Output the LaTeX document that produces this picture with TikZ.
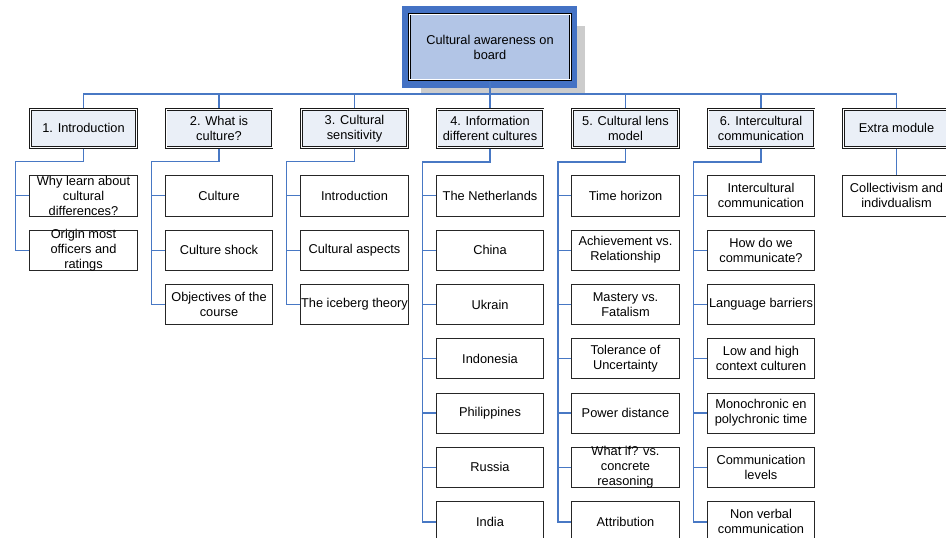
\documentclass[tikz,border=0pt]{standalone}
\usepackage{fontspec}
\setmainfont{Liberation Sans}
\usetikzlibrary{positioning, backgrounds}
\definecolor{rootblue}{RGB}{68,114,196}
\definecolor{rootfill}{RGB}{178,197,230}
\definecolor{modfill}{RGB}{234,239,247}
\definecolor{shadowgray}{RGB}{204,204,204}
\definecolor{linkblue}{RGB}{72,120,196}

\begin{document}
\begin{tikzpicture}[
  x=1pt, y=-1pt,
  every node/.style={font=\fontsize{12.8}{15}\selectfont},
  rootbox/.style={rectangle, draw=black, double=white, double distance=1pt, line width=0.8pt,
                  fill=rootfill, minimum width=161.4pt, minimum height=65.7pt,
                  align=center, inner sep=0pt, outer sep=1.3pt},
  modbox/.style={rectangle, draw=black!90, double=white, double distance=0.8pt, line width=0.9pt,
                 fill=modfill, minimum width=105.9pt, minimum height=37.9pt,
                 align=center, inner sep=0pt, outer sep=1.3pt},
  subbox/.style={rectangle, draw=black!85, line width=0.8pt, fill=white,
                 minimum width=107.7pt, minimum height=40.2pt, align=center, inner sep=0pt},
  link/.style={draw=linkblue, line width=1.2pt},
  trunk/.style={draw=linkblue, line width=1.7pt},
]
\useasboundingbox (0,0) rectangle (946,538);

% Root
\node[rootbox] (root) at (490,47) {Cultural awareness on\\board};

% Modules
\node[modbox, below=27pt of root] (info)  {4. Information\\different cultures};
\node[modbox, left=27pt of info]  (sens)  {3. Cultural\\sensitivity};
\node[modbox, left=27pt of sens]  (what)  {2. What is\\culture?};
\node[modbox, left=27pt of what]  (intro) {1. Introduction};
\node[modbox, right=27pt of info] (lens)  {5. Cultural lens\\model};
\node[modbox, right=27pt of lens] (comm)  {6. Intercultural\\communication};
\node[modbox, right=27pt of comm] (extra) {Extra module};

% Column 1
\node[subbox, below=26.7pt of intro, inner ysep=-2pt] (intro1) {Why learn about\\cultural\\differences?};
\node[subbox, below=13.3pt of intro1, inner ysep=-2pt] (intro2) {Origin most\\officers and\\ratings};

% Column 2
\node[subbox, below=26.7pt of what] (what1) {Culture};
\node[subbox, below=13.3pt of what1] (what2) {Culture shock};
\node[subbox, below=13.3pt of what2] (what3) {Objectives of the\\course};

% Column 3
\node[subbox, below=26.7pt of sens] (sens1) {Introduction};
\node[subbox, below=13.3pt of sens1] (sens2) {Cultural aspects};
\node[subbox, below=13.3pt of sens2] (sens3) {The iceberg theory};

% Column 4
\node[subbox, below=26.7pt of info] (info1) {The Netherlands};
\node[subbox, below=13.3pt of info1] (info2) {China};
\node[subbox, below=13.3pt of info2] (info3) {Ukrain};
\node[subbox, below=13.3pt of info3] (info4) {Indonesia};
\node[subbox, below=13.3pt of info4] (info5) {Philippines};
\node[subbox, below=13.3pt of info5] (info6) {Russia};
\node[subbox, below=13.3pt of info6] (info7) {India};

% Column 5
\node[subbox, below=26.7pt of lens] (lens1) {Time horizon};
\node[subbox, below=13.3pt of lens1] (lens2) {Achievement vs.\\Relationship};
\node[subbox, below=13.3pt of lens2] (lens3) {Mastery vs.\\Fatalism};
\node[subbox, below=13.3pt of lens3] (lens4) {Tolerance of\\Uncertainty};
\node[subbox, below=13.3pt of lens4] (lens5) {Power distance};
\node[subbox, below=13.3pt of lens5, inner ysep=-2pt] (lens6) {What if? vs.\\concrete\\reasoning};
\node[subbox, below=13.3pt of lens6] (lens7) {Attribution};

% Column 6
\node[subbox, below=26.7pt of comm] (comm1) {Intercultural\\communication};
\node[subbox, below=13.3pt of comm1] (comm2) {How do we\\communicate?};
\node[subbox, below=13.3pt of comm2] (comm3) {Language barriers};
\node[subbox, below=13.3pt of comm3] (comm4) {Low and high\\context culturen};
\node[subbox, below=13.3pt of comm4] (comm5) {Monochronic en\\polychronic time};
\node[subbox, below=13.3pt of comm5] (comm6) {Communication\\levels};
\node[subbox, below=13.3pt of comm6] (comm7) {Non verbal\\communication};

% Extra
\node[subbox, below=26.7pt of extra] (extra1) {Collectivism and\\indivdualism};

% Root backdrop
\begin{scope}[on background layer]
\fill[shadowgray] ([shift={(13.4,13)}]root.north west) rectangle ([shift={(12.7,11.7)}]root.south east);
\fill[rootblue] ([shift={(-6,-6.7)}]root.north west) rectangle ([shift={(5.4,6.7)}]root.south east);
\end{scope}

% Bus
\coordinate (bus) at ([yshift=14.2pt]info.north);
\draw[link] (root) -- (info);
\draw[link] (intro.north) |- (bus) -| (extra.north);
\draw[link] (what.north) -- (what.north |- bus);
\draw[link] (sens.north) -- (sens.north |- bus);
\draw[link] (lens.north) -- (lens.north |- bus);
\draw[link] (comm.north) -- (comm.north |- bus);

% Trunks
\coordinate (introbar) at ([xshift=-13.4pt]intro2.west);
\coordinate (whatbar)  at ([xshift=-13.4pt]what3.west);
\coordinate (sensbar)  at ([xshift=-13.4pt]sens3.west);
\coordinate (infobar)  at ([xshift=-13.4pt]info7.west);
\coordinate (lensbar)  at ([xshift=-13.4pt]lens7.west);
\coordinate (commbar)  at ([xshift=-13.4pt]comm7.west);

\draw[link] (intro.south) -- ++(0,13) -| (introbar) -- (intro2.west);
\draw[link] (what.south) -- ++(0,13) -| (whatbar) -- (what3.west);
\draw[link] (sens.south) -- ++(0,13) -| (sensbar) -- (sens3.west);
\draw[trunk] (info.south) -- ++(0,13) -| (infobar) -- (info7.west);
\draw[trunk] (lens.south) -- ++(0,13) -| (lensbar) -- (lens7.west);
\draw[trunk] (comm.south) -- ++(0,13) -| (commbar) -- (comm7.west);
\draw[link] (extra) -- (extra1);

% Branches
\draw[link] (intro1.west) -- (intro1.west -| introbar);
\draw[link] (what1.west) -- (what1.west -| whatbar) (what2.west) -- (what2.west -| whatbar);
\draw[link] (sens1.west) -- (sens1.west -| sensbar) (sens2.west) -- (sens2.west -| sensbar);
\draw[link] (info1.west) -- (info1.west -| infobar) (info2.west) -- (info2.west -| infobar)
            (info3.west) -- (info3.west -| infobar) (info4.west) -- (info4.west -| infobar)
            (info5.west) -- (info5.west -| infobar) (info6.west) -- (info6.west -| infobar);
\draw[link] (lens1.west) -- (lens1.west -| lensbar) (lens2.west) -- (lens2.west -| lensbar)
            (lens3.west) -- (lens3.west -| lensbar) (lens4.west) -- (lens4.west -| lensbar)
            (lens5.west) -- (lens5.west -| lensbar) (lens6.west) -- (lens6.west -| lensbar);
\draw[link] (comm1.west) -- (comm1.west -| commbar) (comm2.west) -- (comm2.west -| commbar)
            (comm3.west) -- (comm3.west -| commbar) (comm4.west) -- (comm4.west -| commbar)
            (comm5.west) -- (comm5.west -| commbar) (comm6.west) -- (comm6.west -| commbar);

\end{tikzpicture}
\end{document}
